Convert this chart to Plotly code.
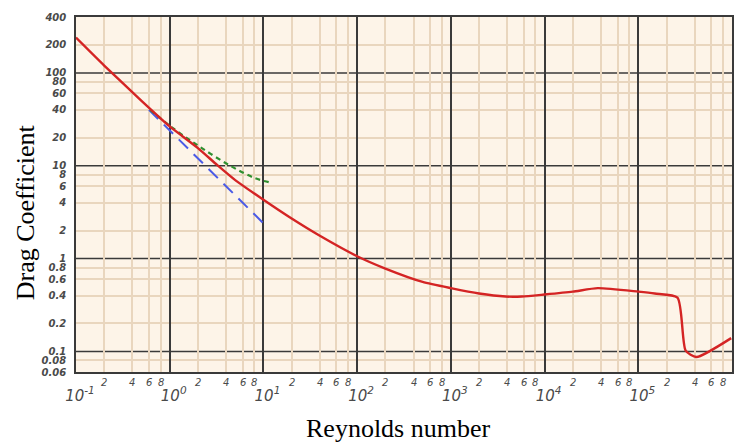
import plotly.graph_objects as go
import numpy as np

# Standard drag curve for a sphere (Reynolds number vs drag coefficient)
re_curve = [0.1, 0.2, 0.5, 1, 2, 3.2, 5, 10, 20, 40, 100, 200, 500, 1000, 2000,
            3850, 5700, 1e4, 2e4, 3.7e4, 1e5, 1.5e5, 2.62e5, 3.2e5, 4.17e5, 9.8e5]
cd_curve = [240, 120, 50, 26.5, 15.5, 10.2, 7.0, 4.3, 2.7, 1.76, 1.06, 0.78, 0.56, 0.48, 0.42,
            0.39, 0.39, 0.41, 0.44, 0.48, 0.44, 0.42, 0.38, 0.102, 0.087, 0.139]

# Stokes law (long dashes)
re_stokes = [0.6, 10]
cd_stokes = [40, 2.4]

# Oseen correction (short dashes)
re_oseen = [0.62, 1, 2, 4.35, 8, 12.5]
cd_oseen = [40, 27, 16.5, 10.1, 7.4, 6.5]

# Axis labelling
x_decades = [-1, 0, 1, 2, 3, 4, 5, 6]
x_mantissas = [2, 4, 6, 8]
y_tick_vals = [0.06, 0.08, 0.1, 0.2, 0.4, 0.6, 0.8, 1, 2, 4, 6, 8,
               10, 20, 40, 60, 80, 100, 200, 400]
y_tick_text = ["0.06", "0.08", "0.1", "0.2", "0.4", "0.6", "0.8", "1", "2", "4", "6", "8",
               "10", "20", "40", "60", "80", "100", "200", "400"]
y_decades = [0.1, 1, 10, 100]

MAJOR = "#3a3a3a"
MINOR = "#e9d6be"
LABEL = "#4a4a4a"
tick_font = dict(family="DejaVu Sans", size=10, color=LABEL, style="italic", weight="bold")

fig = go.Figure()
fig.add_trace(go.Scatter(x=re_stokes, y=cd_stokes, mode="lines",
                         line=dict(color="#4a5ae6", width=2, dash="13px,8px"),
                         hoverinfo="skip", showlegend=False))
fig.add_trace(go.Scatter(x=re_oseen, y=cd_oseen, mode="lines",
                         line=dict(color="#2f8f2f", width=2.2, dash="5px,4px", shape="spline"),
                         hoverinfo="skip", showlegend=False))
fig.add_trace(go.Scatter(x=re_curve, y=cd_curve, mode="lines",
                         line=dict(color="#d42424", width=2.4, shape="spline", smoothing=0.6),
                         hoverinfo="skip", showlegend=False))

x_minor_vals = [m * 10.0 ** d for d in x_decades[:-1] for m in x_mantissas]
y_minor_vals = [v for v in y_tick_vals if v not in y_decades]

fig.update_xaxes(
    type="log", range=[-1, 6],
    tickvals=[10.0 ** d for d in x_decades],
    ticktext=[f"10<sup>{d}</sup>" for d in x_decades],
    tickfont=dict(family="DejaVu Sans", size=15, color=LABEL, style="italic"),
    ticks="", ticklabelstandoff=9, ticklabelshift=4,
    showgrid=True, gridcolor=MAJOR, gridwidth=1.5,
    minor=dict(tickmode="array", tickvals=x_minor_vals, showgrid=True,
               gridcolor=MINOR, gridwidth=1.5, ticks=""),
    showline=True, linecolor=MAJOR, linewidth=1.5, mirror=True, zeroline=False,
)
fig.update_yaxes(
    type="log", range=[np.log10(0.06), np.log10(400)],
    tickvals=y_tick_vals, ticktext=y_tick_text, tickfont=tick_font,
    ticks="", ticklabelstandoff=6, showgrid=False,
    minor=dict(tickmode="array", tickvals=y_minor_vals, showgrid=True,
               gridcolor=MINOR, gridwidth=1.5, ticks=""),
    showline=True, linecolor=MAJOR, linewidth=1.5, mirror=True, zeroline=False,
)

# Dark decade lines across the log paper
for yv in y_decades:
    fig.add_shape(type="line", xref="paper", x0=0, x1=1, yref="y", y0=yv, y1=yv,
                  line=dict(color=MAJOR, width=1.5), layer="below")

# Small mantissa digits between the decade labels
for d in x_decades[:-1]:
    for m in x_mantissas:
        fig.add_annotation(x=np.log10(m * 10.0 ** d), y=0, xref="x", yref="paper",
                           text=str(m), showarrow=False, yanchor="middle", yshift=-10,
                           font=dict(family="DejaVu Sans", size=10, color=LABEL, style="italic"))

fig.add_annotation(x=0.5, y=0, xref="paper", yref="paper", text="Reynolds number",
                   showarrow=False, yanchor="middle", yshift=-56, xshift=-6,
                   font=dict(family="Liberation Serif", size=26, color="black"))
fig.add_annotation(x=0, y=0.45, xref="paper", yref="paper", text="Drag Coefficient",
                   showarrow=False, textangle=-90, xanchor="center", xshift=-51,
                   font=dict(family="Liberation Serif", size=26, color="black"))

fig.update_layout(
    width=745, height=443,
    margin=dict(l=76, r=11, t=11, b=71),
    paper_bgcolor="white", plot_bgcolor="#fdf4e8",
    showlegend=False,
)

fig.write_html("out.html")
